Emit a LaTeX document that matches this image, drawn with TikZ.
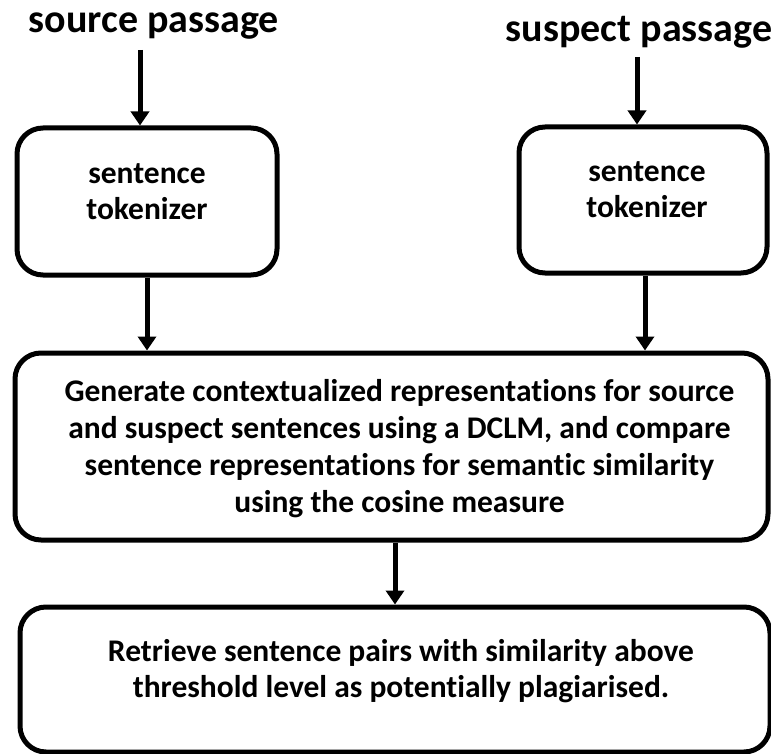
\documentclass[tikz,border=0pt]{standalone}
\usepackage{fontspec}
\setmainfont{Carlito}[Ligatures=NoCommon]
\usetikzlibrary{arrows.meta}
\tikzset{
  box/.style={draw, line width=5pt, rounded corners=26pt, inner sep=0pt},
  boxtext/.style={align=center, font=\fontsize{31.5}{36}\selectfont\bfseries, inner sep=0pt},
  title/.style={font=\fontsize{40}{44}\selectfont\bfseries, inner sep=0pt, anchor=base},
  flow/.style={line width=5pt, -{Triangle[width=18pt,length=14pt]}}
}

\begin{document}
\begin{tikzpicture}[x=1pt,y=-1pt]
  \useasboundingbox (0,0) rectangle (771,754);
  \node[title] (src) at (154,33) {source passage};
  \node[title] (sus) at (639,42) {suspect passage};
  \node[box, minimum width=260pt, minimum height=147pt] (tok1) at (147,201.5) {};
  \node[box, minimum width=248pt, minimum height=146pt] (tok2) at (643,200) {};
  \node[box, minimum width=753pt, minimum height=187pt] (gen) at (391.5,446.5) {};
  \node[box, minimum width=750pt, minimum height=145pt] (ret) at (395,679.5) {};
  \node[boxtext] (tok1txt) at ([yshift=10pt]tok1.center) {sentence\\tokenizer};
  \node[boxtext] (tok2txt) at ([yshift=10pt,xshift=4pt]tok2.center) {sentence\\tokenizer};
  \node[boxtext, font=\fontsize{31.5}{37}\selectfont\bfseries] (gentxt) at ([yshift=-2pt,xshift=8pt]gen.center)
    {Generate contextualized representations for source\\
     and suspect sentences using a DCLM, and compare\\
     sentence representations for semantic similarity\\
     using the cosine measure};
  \node[boxtext] (rettxt) at ([yshift=8pt,xshift=6pt]ret.center)
    {Retrieve sentence pairs with similarity above\\
     threshold level as potentially plagiarised.};
  \draw[flow] ([xshift=-7pt,yshift=-10pt]tok1.north |- src.south) -- ([xshift=-7pt]tok1.north);
  \draw[flow] ([xshift=-6pt,yshift=-8pt]tok2.north |- sus.south) -- ([xshift=-6pt]tok2.north);
  \draw[flow] (tok1.south) -- (tok1.south |- gen.north);
  \draw[flow] ([xshift=2pt]tok2.south) -- ([xshift=2pt]tok2.south |- gen.north);
  \draw[flow] (ret.north |- gen.south) -- (ret.north);
\end{tikzpicture}
\end{document}
